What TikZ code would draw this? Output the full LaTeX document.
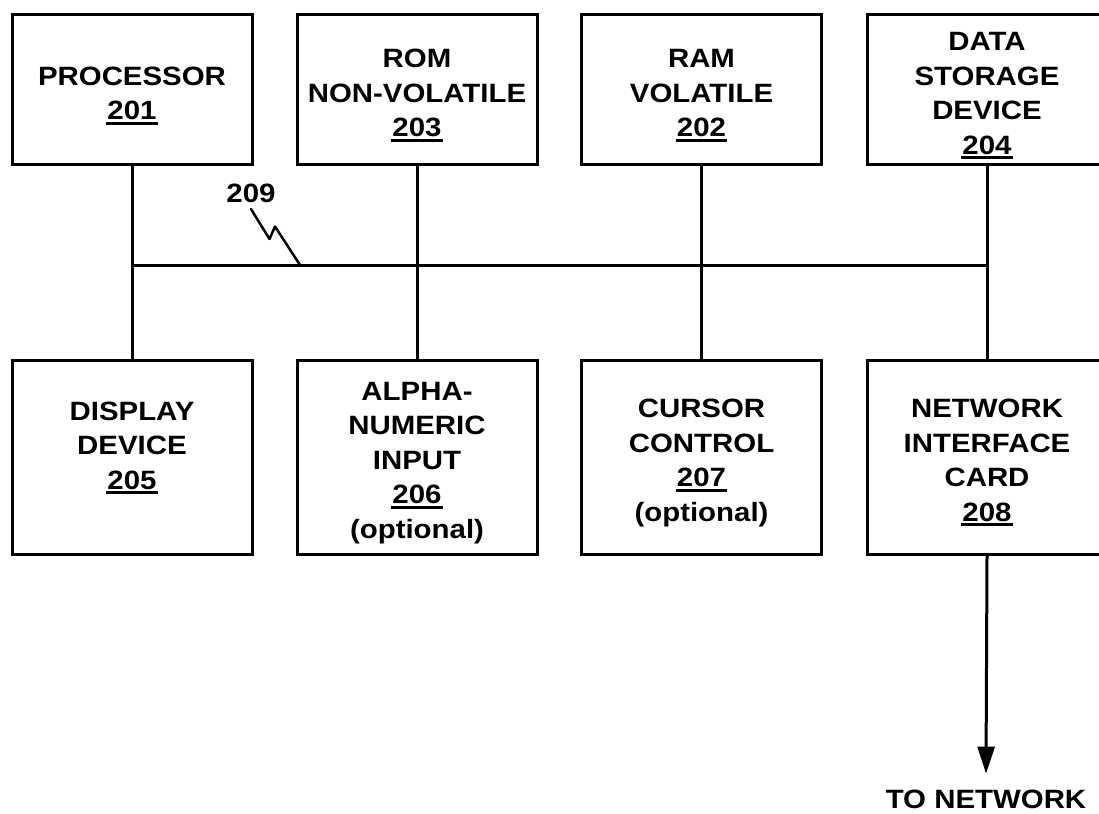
\documentclass[tikz,border=0pt]{standalone}
\usepackage{fontspec}
\setmainfont{Liberation Sans}[FakeStretch=1.11]
\usetikzlibrary{arrows.meta}
\newcommand\refnum[1]{\setbox0\hbox{#1}\rlap{\kern-1pt\rule[-5pt]{\dimexpr\wd0+2pt\relax}{2.8pt}}\box0}
\newcommand\tp{\rule{0pt}{30pt}}
\begin{document}
\begin{tikzpicture}[x=1pt,y=-1pt,
  lbl/.style={font=\bfseries\fontsize{26.5}{34.5}\selectfont},
  box/.style={lbl, draw, line width=3pt, minimum width=240pt, align=center, inner sep=0pt},
  toprow/.style={box, minimum height=150pt},
  botrow/.style={box, minimum height=194pt},
  conn/.style={line width=3pt},
  squig/.style={line width=2.5pt, line join=round, line cap=round}]
\useasboundingbox (0,0) rectangle (1099,813);
% top row
\node[toprow] (proc) at (132,90) {\tp PROCESSOR\\\refnum{201}};
\node[toprow] (rom) at (417,90) {\tp ROM\\NON-VOLATILE\\\refnum{203}};
\node[toprow] (ram) at (701.5,90) {\tp RAM\\VOLATILE\\\refnum{202}};
\node[toprow] (dsd) at (987,90) {\tp DATA\\STORAGE\\DEVICE\\\refnum{204}};
% bottom row
\node[botrow] (disp) at (132,457) {\tp DISPLAY\\DEVICE\\\refnum{205}\\\mbox{}};
\node[botrow] (alpha) at (417,457) {\tp ALPHA-\\NUMERIC\\INPUT\\\refnum{206}\\(optional)};
\node[botrow] (cur) at (701.5,457) {\tp CURSOR\\CONTROL\\\refnum{207}\\(optional)};
\node[botrow] (nic) at (987,457) {\tp NETWORK\\INTERFACE\\CARD\\\refnum{208}};
% network label
\node[lbl, inner sep=0pt, outer ysep=16pt] (net) at (986,799) {TO NETWORK};
% vertical connectors
\draw[conn] (proc.south) -- (disp.north);
\draw[conn] (rom.south) -- (alpha.north);
\draw[conn] (ram.south) -- (cur.north);
\draw[conn] (dsd.south) -- (nic.north);
% bus
\coordinate (bus) at (0,265);
\draw[conn] (proc.south |- bus) -- (dsd.south |- bus);
% bus label
\node[lbl, inner sep=0pt, anchor=south] (n209) at (251,203) {209};
\coordinate (sq) at (300,265);
\draw[squig] (n209.south) ++(0,6) -- ++(18.5,30) -- ++(5.5,-12.5) -- (sq);
% arrow to network
\draw[conn, -{Triangle[length=27pt,width=17pt]}] (nic.south) -- (net.north);
\end{tikzpicture}
\end{document}
